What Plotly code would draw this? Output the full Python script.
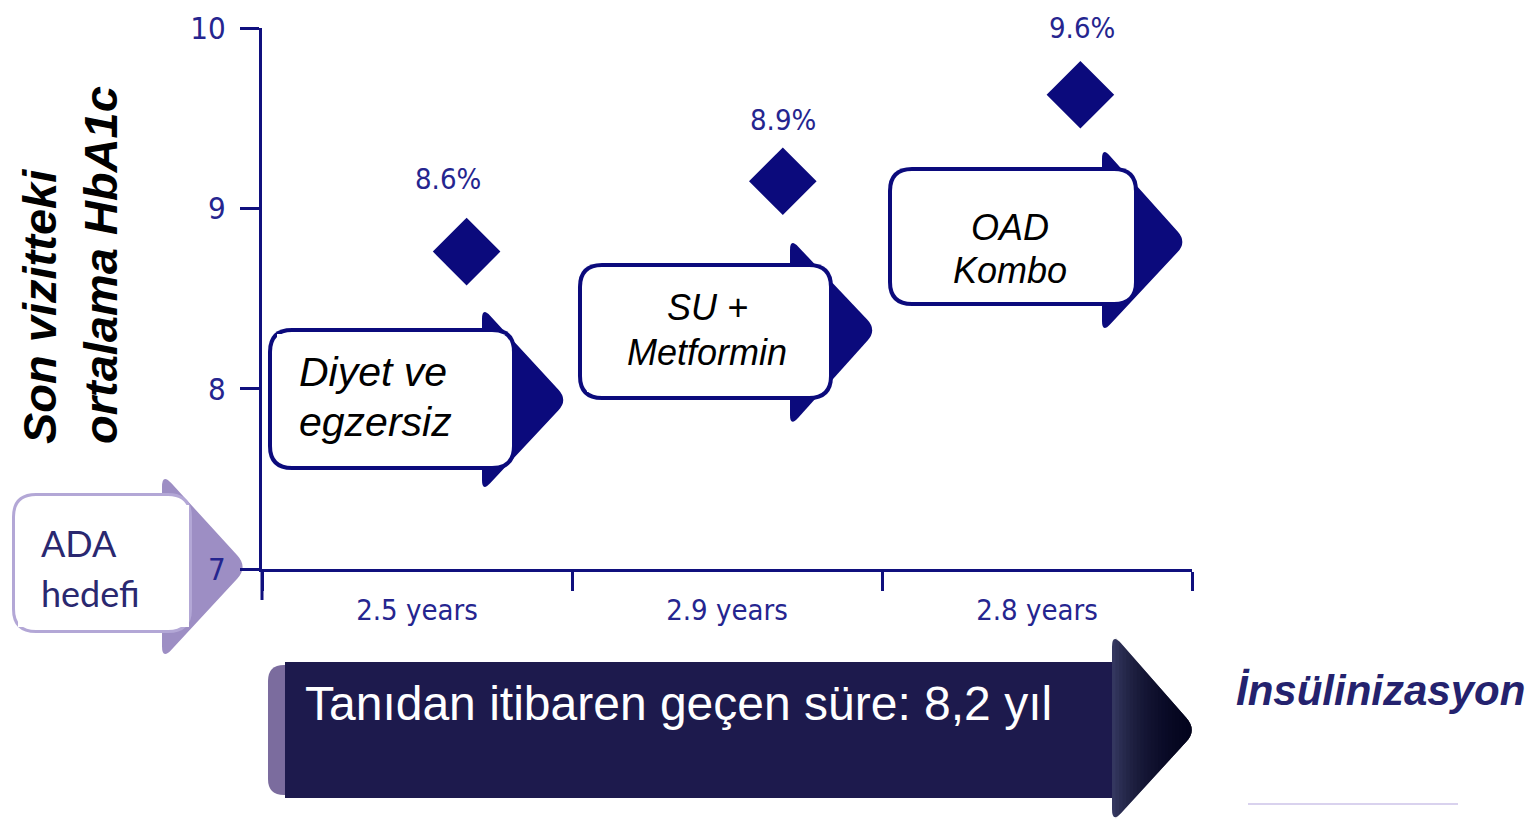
import plotly.graph_objects as go

# ---------------- data ----------------
period_labels = ["2.5 years", "2.9 years", "2.8 years"]
period_centres = [0.5, 1.5, 2.5]
period_bounds = [0, 1, 2, 3]
point_x = [0.66, 1.68, 2.64]
hba1c_y = [8.76, 9.15, 9.63]
hba1c_text = ["8.6%", "8.9%", "9.6%"]
y_ticks = [7, 8, 9, 10]
treatment_lines = [["Diyet ve", "egzersiz"], ["SU +", "Metformin"], ["OAD", "Kombo"]]
target_lines = ["ADA", "hedefi"]
y_title_lines = ["Son vizitteki", "ortalama HbA1c"]
duration_text = "Tanıdan itibaren geçen süre: 8,2 yıl"
end_text = "İnsülinizasyon"

# ---------------- layout geometry (screen pixels) ----------------
W_PX, H_PX = 1535, 824
OFF = 8  # page body margin
L, R, T, B = 262, 1192, 28, 569
PW, PH = R - L, B - T

NAVY = "#0b0a7c"
AX = "#10107e"
TICKC = "#25258f"
ARIAL = "Liberation Sans, Arial, sans-serif"
NUMF = "DejaVu Sans Condensed, Liberation Sans, Arial, sans-serif"


def px(x, y):
    return (x - L) / PW, (B - y) / PH


def P(x, y):
    a, b = px(x, y)
    return f"{a:.5f},{b:.5f}"


def rrect(x0, y0, x1, y1, r):
    return (f"M{P(x0 + r, y0)} L{P(x1 - r, y0)} Q{P(x1, y0)} {P(x1, y0 + r)} "
            f"L{P(x1, y1 - r)} Q{P(x1, y1)} {P(x1 - r, y1)} L{P(x0 + r, y1)} "
            f"Q{P(x0, y1)} {P(x0, y1 - r)} L{P(x0, y0 + r)} Q{P(x0, y0)} {P(x0 + r, y0)} Z")


def rect(x0, y0, x1, y1):
    return f"M{P(x0, y0)} L{P(x1, y0)} L{P(x1, y1)} L{P(x0, y1)} Z"


def lerp(a, b, t):
    return a[0] + (b[0] - a[0]) * t, a[1] + (b[1] - a[1]) * t


def head(bx, ty, by, tx, tyy, r=12, rt=14, xcut=None):
    A, Tp, C = (bx, ty), (tx, tyy), (bx, by)
    lat = ((tx - bx) ** 2 + (tyy - ty) ** 2) ** 0.5
    a1 = lerp(A, Tp, r / lat)
    t0 = lerp(Tp, A, rt / lat)
    t1 = lerp(Tp, C, rt / lat)
    c0 = lerp(C, Tp, r / lat)
    if xcut is None:
        return (f"M{P(bx, ty + r)} Q{P(*A)} {P(*a1)} L{P(*t0)} Q{P(*Tp)} {P(*t1)} "
                f"L{P(*c0)} Q{P(*C)} {P(bx, by - r)} Z")
    f = (xcut - bx) / (tx - bx)
    s0 = lerp(A, Tp, f)
    s1 = lerp(C, Tp, f)
    return f"M{P(*s0)} L{P(*t0)} Q{P(*Tp)} {P(*t1)} L{P(*s1)} Z"


shapes = []


def add(path, color):
    shapes.append(dict(type="path", xref="paper", yref="paper", path=path,
                       fillcolor=color, line=dict(width=0, color=color),
                       layer="below"))


# treatment arrows: (outline box, head, sharp white rect or None)
boxes = [
    ((268, 328, 516, 470), (482, 307, 492, 568, 400), (277, 334, 503, 458)),
    ((578, 263, 833, 400), (790, 238, 427, 877, 330), (587, 273, 821, 392)),
    ((888, 167, 1138, 306), (1102, 147, 333, 1187, 242), None),
]
for (x0, y0, x1, y1), hd, sr in boxes:
    add(head(*hd), NAVY)
    add(rrect(x0, y0, x1, y1, 24), NAVY)
    add(rrect(x0 + 4, y0 + 4, x1 - 4, y1 - 4, 20), "white")
    if sr:
        add(rect(*sr), "white")

# ADA target arrow (lavender)
LAV = "#9d8ec4"
add(head(162, 473, 660, 248, 567, 14, 16), LAV)
add(rrect(12, 493, 192, 633, 24), "#b3a7d6")
add(rrect(15, 496, 189, 630, 21), "white")
add(rect(18, 505, 189, 627), "white")

# bottom duration arrow
add(rrect(268, 665, 300, 795, 16), "#7b6c9e")
add(rect(285, 662, 1117, 798), "#1d1a4d")
add(head(1112, 633, 823, 1197, 730, 14, 16), "#34375f")
NSTRIP = 22
for k in range(1, NSTRIP):
    xc = 1112 + k * (1197 - 1112) / (NSTRIP + 2)
    add(head(1112, 633, 823, 1197, 730, 14, 16, xcut=xc), "rgba(0,0,20,0.085)")

# y axis extension below x axis and the faint line at bottom right
shapes.append(dict(type="line", xref="paper", yref="paper",
                   x0=0, x1=0, y0=px(262, 569)[1], y1=px(262, 600)[1],
                   line=dict(color=AX, width=3)))
shapes.append(dict(type="line", xref="paper", yref="paper",
                   x0=px(1248, 0)[0], x1=px(1458, 0)[0], y0=px(0, 804)[1], y1=px(0, 804)[1],
                   line=dict(color="#d9d2ee", width=2)))

fig = go.Figure()
fig.add_trace(go.Scatter(x=point_x, y=hba1c_y, mode="markers",
                         marker=dict(symbol="diamond", size=52, color=NAVY, line=dict(width=0)),
                         hoverinfo="skip", showlegend=False))

ann = []


def A(text, x, y, size, color="black", family=ARIAL, xanchor="center", **kw):
    a, b = px(x, y)
    d = dict(text=text, x=a, y=b, xref="paper", yref="paper", showarrow=False,
             xanchor=xanchor, yanchor="middle", font=dict(size=size, color=color, family=family))
    d.update(kw)
    ann.append(d)


# percentage labels above diamonds
label_shift = [(-19, 73), (0, 61), (2, 67)]
for xv, yv, t, (dx, dy) in zip(point_x, hba1c_y, hba1c_text, label_shift):
    ann.append(dict(text=t, x=xv, y=yv, xref="x", yref="y", showarrow=False,
                    xshift=dx, yshift=dy, xanchor="center", yanchor="middle",
                    font=dict(size=29, color=TICKC, family=NUMF)))

# treatment texts
it = lambda s: f"<i>{s}</i>"
A(it(treatment_lines[0][0]), 297, 372, 41, xanchor="left")
A(it(treatment_lines[0][1]), 297, 422, 41, xanchor="left")
A(it(treatment_lines[1][0]), 707, 307, 36)
A(it(treatment_lines[1][1]), 707, 352, 36)
A(it(treatment_lines[2][0]), 1010, 227, 36)
A(it(treatment_lines[2][1]), 1010, 270, 36)

# ADA target
A(target_lines[0], 39, 543, 36, color="#2a2870", family="Lato, Open Sans, sans-serif", xanchor="left")
A(target_lines[1], 39, 593, 36, color="#2a2870", family="Lato, Open Sans, sans-serif", xanchor="left")

# duration
A(duration_text, 303, 703, 48, color="white", xanchor="left")
A(f"<b><i>{end_text}</i></b>", 1234, 690, 42, color="#24226e", xanchor="left")

# y title
A("<b><i>" + "<br>".join(y_title_lines) + "</i></b>", 70, 265, 47, textangle=-90, align="left")

fig.update_layout(
    width=W_PX - OFF, height=H_PX - OFF, autosize=False,
    margin=dict(l=L - OFF, r=W_PX - R, t=T - OFF, b=H_PX - B, pad=0, autoexpand=False),
    paper_bgcolor="white", plot_bgcolor="rgba(0,0,0,0)",
    shapes=shapes, annotations=ann, showlegend=False,
    xaxis=dict(range=[0, 3], showgrid=False, zeroline=False, showline=True,
               automargin=False,
               linecolor=AX, linewidth=3, tickvals=period_centres, ticktext=period_labels,
               ticks="", ticklabelstandoff=13, ticklabeloverflow="allow",
               tickfont=dict(size=29, color=TICKC, family=NUMF),
               minor=dict(tickvals=period_bounds, ticks="outside", ticklen=19,
                          tickwidth=3, tickcolor=AX)),
    yaxis=dict(range=[7, 10], showgrid=False, zeroline=False, showline=True,
               automargin=False,
               linecolor=AX, linewidth=3, tickvals=y_ticks, ticks="outside",
               ticklen=19, tickwidth=3, tickcolor=AX, ticklabelstandoff=8,
               ticklabeloverflow="allow",
               tickfont=dict(size=31, color=TICKC, family=NUMF)),
)

fig.write_html("out.html")
